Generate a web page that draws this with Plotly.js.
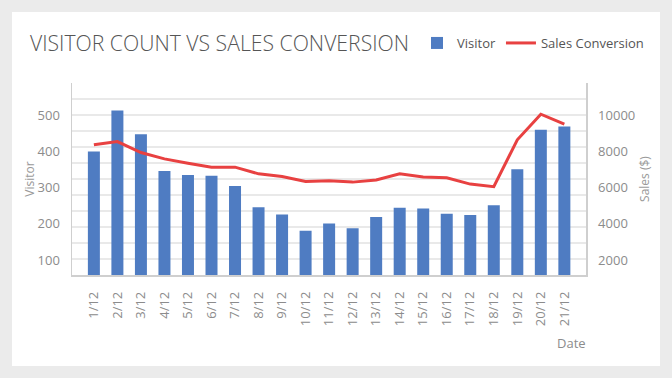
<!DOCTYPE html>
<html>
<head>
<meta charset="utf-8">
<script src="https://cdn.plot.ly/plotly-3.0.1.min.js"></script>
<style>
html,body{margin:0;padding:0;background:#ebebeb;width:672px;height:378px;overflow:hidden;}
#chart{position:absolute;left:12px;top:12px;width:648px;height:354px;background:#fff;}
</style>
</head>
<body>
<div id="chart"></div>
<script>
const dates = ["1/12","2/12","3/12","4/12","5/12","6/12","7/12","8/12","9/12","10/12","11/12","12/12","13/12","14/12","15/12","16/12","17/12","18/12","19/12","20/12","21/12"];
const visitors = [401,515,449,347,336,334,305,246,226,181,201,188,219,245,243,228,225,252,352,461,470];
const sales = [8390,8570,7960,7610,7370,7150,7150,6780,6630,6350,6390,6320,6440,6780,6610,6560,6210,6070,8670,10090,9540];
const visitorTicks = [100,200,300,400,500];
const salesTicks = [2000,4000,6000,8000,10000];

const gray = "#8c8c8c";
const font = "Open Sans, sans-serif";

const traces = [
  {type:"bar", name:"Visitor", x:dates, y:visitors, marker:{color:"#4f7cc2"}, yaxis:"y"},
  {type:"scatter", mode:"lines", name:"Sales Conversion", x:dates, y:sales, line:{color:"#e84141", width:3}, yaxis:"y2"}
];

const layout = {
  width:648, height:354,
  margin:{l:60, r:74, t:71, b:91},
  paper_bgcolor:"#fff", plot_bgcolor:"rgba(0,0,0,0)",
  font:{family:font, color:gray, size:13},
  bargap:0.49,
  showlegend:true,
  title:{text:"VISITOR COUNT VS SALES CONVERSION", font:{family:font, size:21.2, color:"#555", weight:300},
         xref:"container", x:18/648, xanchor:"left", yref:"container", y:1-32/354, yanchor:"middle"},
  legend:{orientation:"h", xref:"container", x:405/648, xanchor:"left", yref:"container", y:1-31/354, yanchor:"middle",
          font:{family:font, size:13, color:"#555"}, bgcolor:"rgba(0,0,0,0)"},
  xaxis:{type:"category", range:[-0.93,20.92], tickangle:-90, showgrid:false, zeroline:false,
         showline:true, linecolor:"#cfcfcf", linewidth:1.5, ticks:"", ticklabelstandoff:10,
         tickfont:{size:13, color:gray}},
  yaxis:{range:[58.3,591.0], tickmode:"array", tickvals:visitorTicks, showgrid:false, zeroline:false,
         showline:true, linecolor:"#cfcfcf", linewidth:1.5, ticks:"", ticklabelstandoff:8,
         tickfont:{size:13, color:gray},
         minor:{tick0:58.333, dtick:44.444, showgrid:true, gridcolor:"#e9e9e9", gridwidth:1.5, ticks:""},
         title:{text:"Visitor", font:{size:12, color:"#9a9a9a"}, standoff:0}},
  yaxis2:{overlaying:"y", side:"right", range:[1166,11820], tickmode:"array", tickvals:salesTicks, tickformat:"d",
          showgrid:false, zeroline:false,
          showline:true, linecolor:"#cfcfcf", linewidth:1.5, ticks:"", ticklabelstandoff:8,
          tickfont:{size:13, color:gray},
          title:{text:"Sales ($)", font:{size:12, color:"#9a9a9a"}, standoff:6}},
  annotations:[{text:"Date", xref:"paper", yref:"paper", x:(576-60)/514, y:(263-331)/192, xanchor:"right", yanchor:"middle",
                showarrow:false, font:{size:13, color:gray}}]
};

Plotly.newPlot("chart", traces, layout, {displayModeBar:false, staticPlot:true});
</script>
</body>
</html>
